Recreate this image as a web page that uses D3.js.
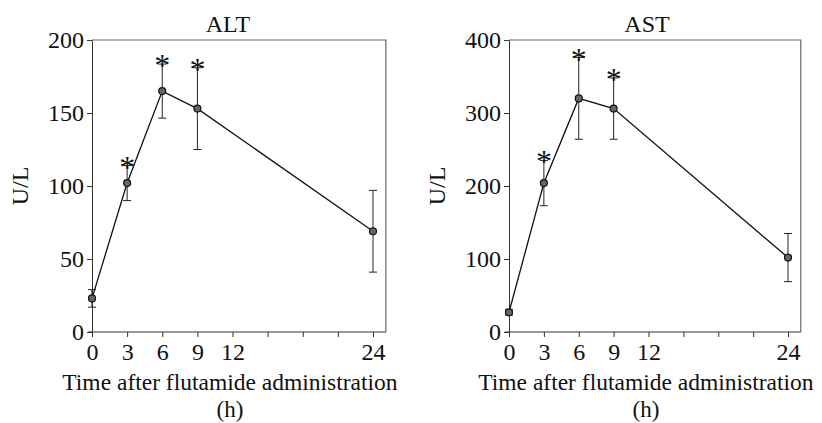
<!DOCTYPE html>
<meta charset="utf-8">
<style>
  body { margin: 0; background: #fff; }
  svg text { font-family: "Liberation Serif", "Times New Roman", serif; fill: #111; }
</style>
<svg id="chart" width="822" height="423"></svg>
<script src="https://d3js.org/d3.v7.min.js"></script>
<script>

var hours = [0, 3, 6, 9, 24];
var xTicks = [0, 3, 6, 9, 12, 15, 18, 21, 24];
var xTickLabels = [0, 3, 6, 9, 12, 24];

var altMean = [23, 102, 165, 153, 69];
var altErr = [6, 12, 18.5, 28, 28];
var altStar = [false, true, true, true, false];
var altTicks = [0, 50, 100, 150, 200];

var astMean = [27, 204, 320, 306, 102];
var astErr = [4, 31, 56, 42, 33];
var astStar = [false, true, true, true, false];
var astTicks = [0, 100, 200, 300, 400];

var svg = d3.select("#chart");
var serif = "'Liberation Serif', 'Times New Roman', serif";
var fs = 24;

function Panel(left, right, title, titleX, mean, err, star, ymax, yTicks) {
  var top = 40, bottom = 332;
  var g = svg.append("g").attr("font-family", serif);

  var x = d3.scaleLinear().domain([0, 24]).range([left, right]);
  var y = d3.scaleLinear().domain([0, ymax]).range([bottom, top]);
  var xEnd = x(25.1);

  // frame (top / right sides)
  g.append("path")
      .attr("d", "M" + left + "," + top + "H" + xEnd + "V" + bottom)
      .attr("fill", "none")
      .attr("stroke", "#666")
      .attr("stroke-width", 1.2);

  // x axis
  var xa = g.append("g")
      .attr("transform", "translate(0," + bottom + ")")
      .call(d3.axisBottom(x).tickValues(xTicks).tickSize(5).tickSizeOuter(0)
        .tickFormat(function(d) { return xTickLabels.indexOf(d) >= 0 ? d : ""; }));
  xa.attr("font-family", serif).attr("font-size", fs);
  xa.select(".domain").attr("d", "M" + (left - 4) + ",0H" + xEnd).attr("stroke", "#333");
  xa.selectAll(".tick line").attr("stroke", "#333");
  xa.selectAll(".tick text")
      .attr("fill", "#111")
      .attr("dy", "0.85em");

  // y axis
  var ya = g.append("g")
      .attr("transform", "translate(" + left + ",0)")
      .call(d3.axisLeft(y).tickValues(yTicks).tickSize(5).tickSizeOuter(0));
  ya.attr("font-family", serif).attr("font-size", fs);
  ya.select(".domain").attr("stroke", "#333");
  ya.selectAll(".tick line").attr("stroke", "#333");
  ya.selectAll(".tick text")
      .attr("fill", "#111")
      .attr("x", -8);

  // titles
  g.append("text")
      .attr("x", titleX)
      .attr("y", 32)
      .attr("text-anchor", "middle")
      .attr("font-size", fs)
      .text(title);

  g.append("text")
      .attr("transform", "translate(" + (left - 64) + "," + ((top + bottom) / 2) + ") rotate(-90)")
      .attr("text-anchor", "middle")
      .attr("font-size", fs)
      .text("U/L");

  g.append("text")
      .attr("x", (left + xEnd) / 2 - 9)
      .attr("y", 390)
      .attr("text-anchor", "middle")
      .attr("font-size", 23.5)
      .text("Time after flutamide administration");

  g.append("text")
      .attr("x", (left + xEnd) / 2 - 9)
      .attr("y", 417)
      .attr("text-anchor", "middle")
      .attr("font-size", 23)
      .text("(h)");

  var data = hours.map(function(h, i) {
    return { h: h, m: mean[i], e: err[i], s: star[i] };
  });

  // error bars
  var eb = g.selectAll(".err").data(data).enter().append("g").attr("class", "err")
      .attr("stroke", "#222").attr("stroke-width", 1);
  eb.append("line")
      .attr("x1", function(d) { return x(d.h); })
      .attr("x2", function(d) { return x(d.h); })
      .attr("y1", function(d) { return y(d.m - d.e); })
      .attr("y2", function(d) { return y(d.m + d.e); });
  eb.append("line")
      .attr("x1", function(d) { return x(d.h) - 4; })
      .attr("x2", function(d) { return x(d.h) + 4; })
      .attr("y1", function(d) { return y(d.m + d.e); })
      .attr("y2", function(d) { return y(d.m + d.e); });
  eb.append("line")
      .attr("x1", function(d) { return x(d.h) - 4; })
      .attr("x2", function(d) { return x(d.h) + 4; })
      .attr("y1", function(d) { return y(d.m - d.e); })
      .attr("y2", function(d) { return y(d.m - d.e); });

  // line
  g.append("path")
      .datum(data)
      .attr("fill", "none")
      .attr("stroke", "#111")
      .attr("stroke-width", 1.3)
      .attr("d", d3.line().x(function(d) { return x(d.h); }).y(function(d) { return y(d.m); }));

  // points
  g.selectAll(".pt").data(data).enter().append("circle")
      .attr("cx", function(d) { return x(d.h); })
      .attr("cy", function(d) { return y(d.m); })
      .attr("r", 3.5)
      .attr("fill", "#666")
      .attr("stroke", "#111")
      .attr("stroke-width", 1.2);

  // significance stars
  g.selectAll(".star").data(data.filter(function(d) { return d.s; })).enter().append("text")
      .attr("x", function(d) { return x(d.h); })
      .attr("y", function(d) { return y(d.m + d.e) + 12; })
      .attr("text-anchor", "middle")
      .attr("font-size", 32)
      .text("*");
}

Panel(92, 373, "ALT", 228, altMean, altErr, altStar, 200, altTicks);
Panel(509, 788, "AST", 647, astMean, astErr, astStar, 400, astTicks);

</script>
